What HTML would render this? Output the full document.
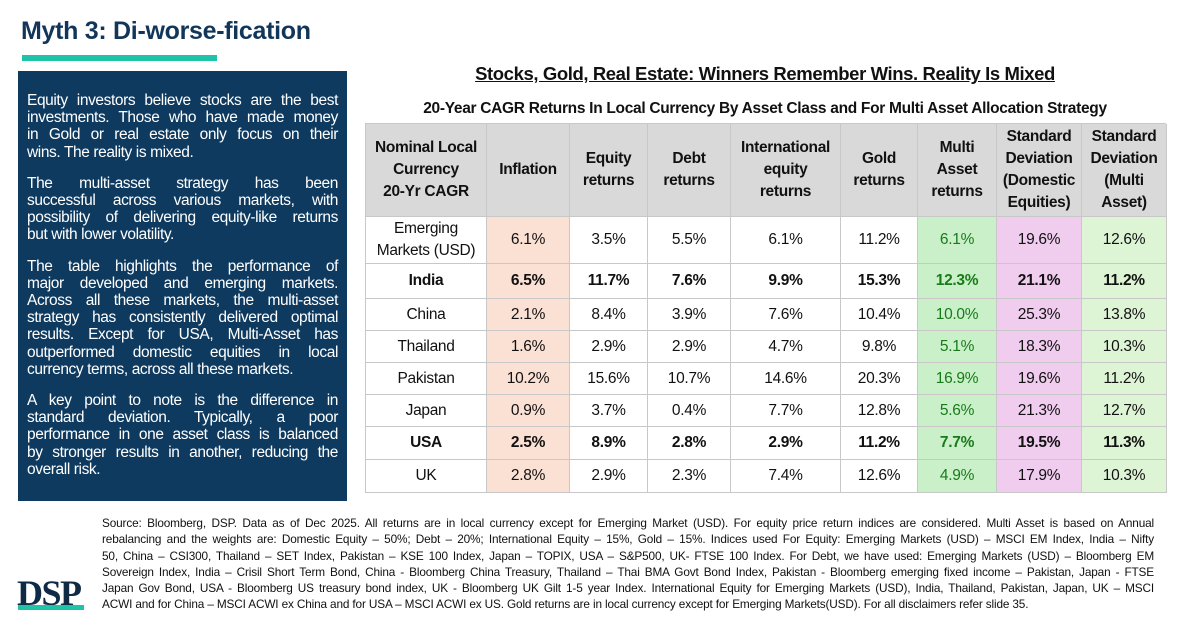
<!DOCTYPE html>
<html><head><meta charset="utf-8">
<style>
*{margin:0;padding:0;box-sizing:border-box}
body{width:1199px;height:628px;background:#fff;position:relative;overflow:hidden;font-family:"Liberation Sans",sans-serif}
#title{position:absolute;left:21px;top:17px;font-size:25px;font-weight:bold;color:#12365a;letter-spacing:-0.3px}
#tbar{position:absolute;left:22px;top:55px;width:195px;height:6px;background:#1fc3a8}
#box{position:absolute;left:18px;top:71px;width:329px;height:430px;background:#0e3a5f;color:#fff;padding:21px 9px 0 9px;font-size:15.5px;line-height:17.2px;letter-spacing:-0.4px}
#box p{margin-bottom:14px}
.l{display:block;white-space:nowrap;text-align:justify;text-align-last:justify}
.e{display:block;white-space:nowrap}
#h1{position:absolute;left:365px;width:800px;top:63px;text-align:center;font-size:18.5px;font-weight:bold;text-decoration:underline;letter-spacing:-0.4px;color:#111}
#h2{position:absolute;left:365px;width:800px;top:100px;text-align:center;font-size:15.5px;font-weight:bold;letter-spacing:-0.3px;color:#111}
#tbl{position:absolute;left:365px;top:123px;width:801px;height:370px}
.c{position:absolute;border-right:1px solid #c8c8c8;border-bottom:1px solid #c8c8c8;display:flex;align-items:center;justify-content:center;text-align:center;font-size:15.5px;color:#111;line-height:22px;letter-spacing:-0.3px}
.hd{background:#d9d9d9;font-weight:bold;font-size:15.5px}
#src{position:absolute;left:102px;top:515px;width:1052px;font-size:11.8px;line-height:16.3px;color:#111;letter-spacing:-0.15px}
#src .l,#src .e{white-space:nowrap}
#logo{position:absolute;left:17px;top:572px;font-family:"Liberation Serif",serif;font-weight:bold;font-size:36px;color:#0e2a45;letter-spacing:-1.5px}
#lbar{position:absolute;left:18px;top:605px;width:66px;height:5px;background:#1fc3a8}
</style></head><body>
<div id="title">Myth 3: Di-worse-fication</div>
<div id="tbar"></div>
<div id="box">
<p><span class="l">Equity investors believe stocks are the best</span><span class="l">investments. Those who have made money</span><span class="l">in Gold or real estate only focus on their</span><span class="e">wins. The reality is mixed.</span></p>
<p><span class="l">The multi-asset strategy has been</span><span class="l">successful across various markets, with</span><span class="l">possibility of delivering equity-like returns</span><span class="e">but with lower volatility.</span></p>
<p><span class="l">The table highlights the performance of</span><span class="l">major developed and emerging markets.</span><span class="l">Across all these markets, the multi-asset</span><span class="l">strategy has consistently delivered optimal</span><span class="l">results. Except for USA, Multi-Asset has</span><span class="l">outperformed domestic equities in local</span><span class="e">currency terms, across all these markets.</span></p>
<p><span class="l">A key point to note is the difference in</span><span class="l">standard deviation. Typically, a poor</span><span class="l">performance in one asset class is balanced</span><span class="l">by stronger results in another, reducing the</span><span class="e">overall risk.</span></p>
</div>
<div id="h1">Stocks, Gold, Real Estate: Winners Remember Wins. Reality Is Mixed</div>
<div id="h2">20-Year CAGR Returns In Local Currency By Asset Class and For Multi Asset Allocation Strategy</div>
<div id="tbl"></div>
<div id="src"><span class="l">Source: Bloomberg, DSP. Data as of Dec 2025. All returns are in local currency except for Emerging Market (USD). For equity price return indices are considered. Multi Asset is based on Annual</span><span class="l">rebalancing and the weights are: Domestic Equity – 50%; Debt – 20%; International Equity – 15%, Gold – 15%. Indices used For Equity: Emerging Markets (USD) – MSCI EM Index, India – Nifty</span><span class="l">50, China – CSI300, Thailand – SET Index, Pakistan – KSE 100 Index, Japan – TOPIX, USA – S&amp;P500, UK- FTSE 100 Index. For Debt, we have used: Emerging Markets (USD) – Bloomberg EM</span><span class="l">Sovereign Index, India – Crisil Short Term Bond, China - Bloomberg China Treasury, Thailand – Thai BMA Govt Bond Index, Pakistan - Bloomberg emerging fixed income – Pakistan, Japan - FTSE</span><span class="l">Japan Gov Bond, USA - Bloomberg US treasury bond index, UK - Bloomberg UK Gilt 1-5 year Index. International Equity for Emerging Markets (USD), India, Thailand, Pakistan, Japan, UK – MSCI</span><span class="e">ACWI and for China – MSCI ACWI ex China and for USA – MSCI ACWI ex US. Gold returns are in local currency except for Emerging Markets(USD). For all disclaimers refer slide 35.</span></div>
<div id="logo">DSP</div>
<div id="lbar"></div>
<script>
const headers=["Nominal Local<br>Currency<br>20-Yr CAGR","Inflation","Equity<br>returns","Debt<br>returns","International<br>equity<br>returns","Gold<br>returns","Multi<br>Asset<br>returns","Standard<br>Deviation<br>(Domestic<br>Equities)","Standard<br>Deviation<br>(Multi<br>Asset)"];
const markets=["Emerging<br>Markets (USD)","India","China","Thailand","Pakistan","Japan","USA","UK"];
const boldRows=[false,true,false,false,false,false,true,false];
const inflation=[6.1,6.5,2.1,1.6,10.2,0.9,2.5,2.8];
const equity=[3.5,11.7,8.4,2.9,15.6,3.7,8.9,2.9];
const debt=[5.5,7.6,3.9,2.9,10.7,0.4,2.8,2.3];
const intlEquity=[6.1,9.9,7.6,4.7,14.6,7.7,2.9,7.4];
const gold=[11.2,15.3,10.4,9.8,20.3,12.8,11.2,12.6];
const multiAsset=[6.1,12.3,10.0,5.1,16.9,5.6,7.7,4.9];
const sdDomestic=[19.6,21.1,25.3,18.3,19.6,21.3,19.5,17.9];
const sdMulti=[12.6,11.2,13.8,10.3,11.2,12.7,11.3,10.3];
const series=[inflation,equity,debt,intlEquity,gold,multiAsset,sdDomestic,sdMulti];
const colX=[0,121,204,282,365,475,552,631,716,801];
const rowY=[0,93,140,175,207,239,271,303,336,369];
const bgs=["#fff","#fbe0d4","#fff","#fff","#fff","#fff","#c9f0c9","#f0ccef","#ddf4d5"];
const tbl=document.getElementById('tbl');
function cell(x0,x1,y0,y1,html,cls,bg,color,bold){
  const d=document.createElement('div');
  
  
  d.className='c '+cls;
  d.style.left=x0+'px';d.style.top=y0+'px';d.style.width=(x1-x0)+'px';d.style.height=(y1-y0)+'px';
  if(bg)d.style.background=bg;
  if(color)d.style.color=color;
  if(bold)d.style.fontWeight='bold';
  d.innerHTML=html;
  tbl.appendChild(d);
}
tbl.style.borderLeft='1px solid #c8c8c8';tbl.style.borderTop='1px solid #c8c8c8';
headers.forEach((h,i)=>cell(colX[i],colX[i+1],rowY[0],rowY[1],h,'hd'));
markets.forEach((m,r)=>{
  cell(colX[0],colX[1],rowY[r+1],rowY[r+2],m,'','#fff',null,boldRows[r]);
  series.forEach((s,k)=>{
    cell(colX[k+1],colX[k+2],rowY[r+1],rowY[r+2],s[r].toFixed(1)+'%','',bgs[k+1],k===5?'#1a7a1a':null,boldRows[r]);
  });
});
</script>
</body></html>
